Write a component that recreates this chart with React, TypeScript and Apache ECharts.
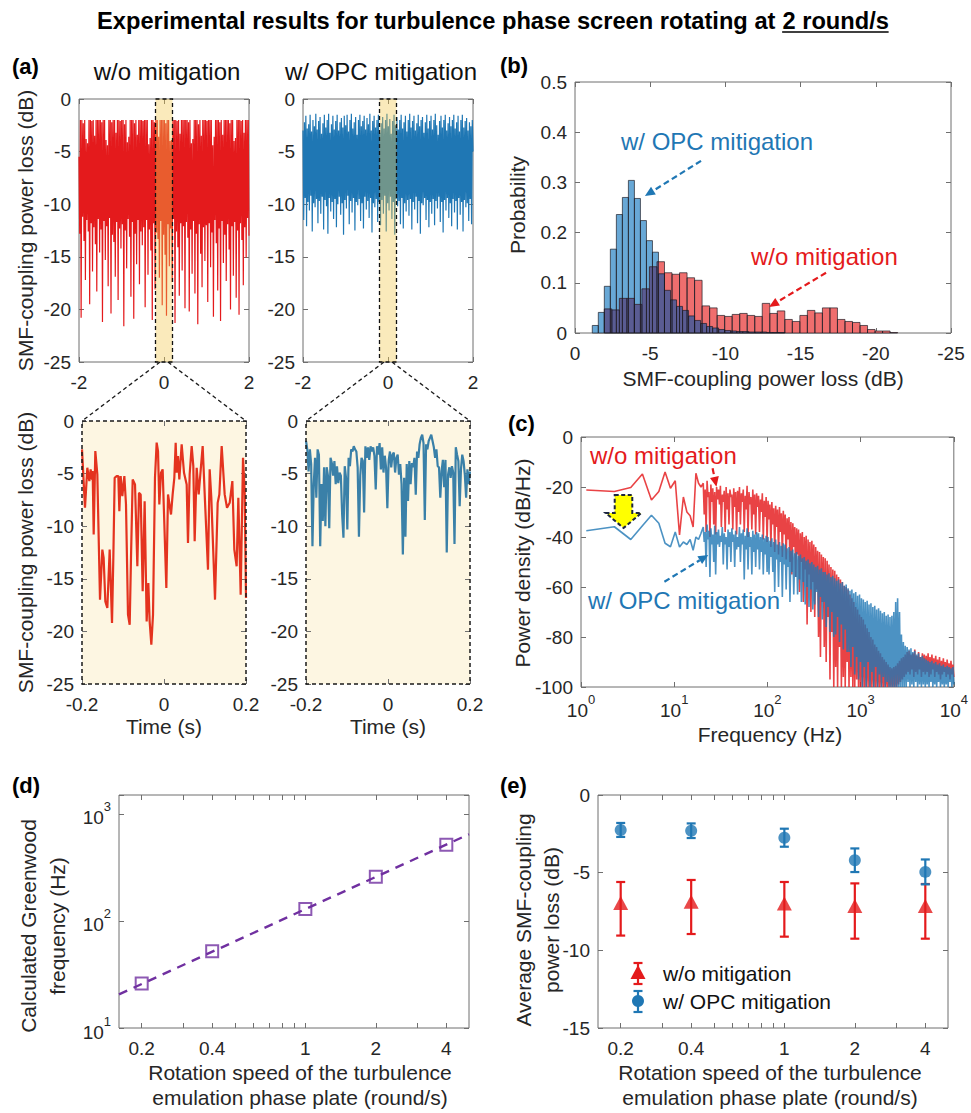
import React, { useEffect, useRef } from 'react';
import * as echarts from 'echarts';

// ================= DATA =================
const timeRangeTop = [-2, 2];
const zoomWindow = [-0.2, 0.2];
const lossRange = [-25, 0];

// (a) top-left: w/o mitigation, 4 s record (values in dB, uniform sampling)
const redTopLoss = [
  -5.5,-12.8,-2,-20.8,-2,-11.2,-2.3,-13.5,-2,-17.2,-3.8,-11.5,-4.2,-12.6,-2,-19.5,-2,-11.8,-2.1,-16.4,-2,-12.2,-3.5,-13.8,-2,-18.3,-2,-11.4,-2,-14.6,
  -2,-12.4,-2.2,-21.2,-2,-11.6,-2,-15.3,-3.9,-12.1,-4.4,-17.8,-2,-11.3,-2,-20.4,-2.2,-12.9,-2,-13.6,-2,-16.9,-3.2,-11.7,-2,-19.1,-2,-12.3,-2.1,-14.2,
  -2,-11.9,-2,-21.6,-2.4,-12.5,-2,-16.1,-4.1,-11.4,-3.6,-13.1,-2,-18.8,-2,-11.7,-2,-20.9,-2.3,-12.8,-2,-15.7,-3.4,-11.5,-2,-17.6,-2,-12.6,-2,-13.9,
  -2.1,-12.2,-2,-19.8,-2,-11.5,-2,-16.7,-4.3,-12.4,-3.7,-14.4,-2,-21.0,-2,-11.8,-2.2,-18.1,-2,-12.7,-2,-13.3,-3.6,-17.0,-2,-11.6,-2,-19.6,-2,-12.9,
  -2,-14.8,-2.3,-20.6,-2,-11.9,-2,-15.9,-4.0,-12.3,-3.9,-17.4,-2,-11.4,-2,-21.3,-2,-12.6,-2.1,-14.1,-2,-18.7,-3.3,-11.8,-2,-16.3,-2,-12.1,-2,-19.9,
  -2,-11.7,-2,-13.2,-2.2,-20.2,-2,-12.4,-4.2,-16.6,-3.8,-11.6,-2,-18.5,-2,-12.8,-2,-21.4,-2.4,-11.9,-2,-14.7,-3.5,-17.9,-2,-12.2,-2,-15.4,-2,-12.0,
  -2.1,-19.3,-2,-11.8,-2,-16.0,-2,-12.7,-4.4,-20.7,-3.6,-11.5,-2,-13.7,-2,-18.2,-2,-12.3,-2.2,-21.1,-2,-11.6,-3.4,-15.6,-2,-12.9,-2,-17.3,-2,-11.9,
  -2,-14.3,-2.3,-20.0,-2,-12.1,-2,-16.8,-4.0,-11.7,-3.7,-18.9,-2,-12.5,-2,-20.5,-2,-11.8,-2.1,-13.4,-2,-17.7,-3.2,-12.2,-2,-15.1,-2,-11.3,-2,-13.0,
];

// (a) top-right: w/ OPC mitigation, 4 s record
const blueTopLoss = [
  -3.0,-11.5,-2.2,-9.4,-1.6,-12.1,-2.8,-9.8,-2.4,-10.6,-1.5,-9.2,-3.1,-12.6,-2.0,-9.9,-2.6,-10.3,-1.4,-9.5,-2.9,-11.8,-2.1,-9.7,-1.7,-10.9,-3.3,-9.3,-2.3,-12.4,
  -1.5,-9.6,-2.7,-10.2,-2.0,-12.8,-1.4,-9.4,-3.2,-10.7,-2.4,-9.8,-1.6,-11.4,-2.9,-9.5,-2.1,-12.2,-1.5,-10.0,-3.0,-9.3,-2.2,-11.0,-1.8,-9.9,-2.7,-12.9,-1.6,-9.6,
  -2.5,-10.4,-1.5,-9.2,-3.1,-11.9,-2.0,-9.7,-1.4,-10.8,-2.8,-9.4,-2.2,-12.5,-1.7,-9.8,-3.4,-10.1,-2.0,-9.5,-1.5,-11.6,-2.6,-9.9,-2.1,-12.3,-1.6,-9.3,-2.9,-10.5,
  -1.8,-9.7,-2.4,-11.3,-1.4,-9.4,-3.0,-12.7,-2.1,-9.9,-1.6,-10.3,-2.7,-9.5,-2.0,-11.7,-1.5,-9.8,-3.2,-12.0,-2.3,-9.6,-1.7,-10.9,-2.8,-9.2,-2.0,-12.6,-1.4,-9.9,
  -2.6,-10.6,-1.9,-9.3,-3.3,-11.4,-2.1,-9.8,-1.5,-12.9,-2.5,-9.5,-1.7,-10.2,-2.9,-9.7,-2.0,-11.9,-1.5,-9.4,-2.8,-12.3,-2.2,-9.9,-1.6,-10.7,-3.1,-9.6,-2.0,-11.1,
  -1.4,-9.5,-2.7,-12.4,-2.1,-9.8,-1.6,-10.5,-3.0,-9.3,-2.3,-11.8,-1.5,-9.7,-2.6,-12.8,-2.0,-9.9,-1.7,-10.1,-3.2,-9.4,-2.2,-11.5,-1.5,-9.6,-2.8,-12.2,-2.1,-9.8,
  -1.6,-10.9,-2.9,-9.5,-2.0,-12.0,-1.4,-9.7,-2.5,-10.4,-3.4,-9.3,-2.1,-11.7,-1.6,-9.8,-2.7,-12.7,-2.0,-9.6,-1.5,-10.6,-3.0,-9.4,-2.3,-11.3,-1.7,-9.9,-2.6,-12.1,
  -2.0,-9.5,-1.5,-10.8,-2.8,-9.7,-2.2,-12.4,-1.6,-9.4,-3.1,-11.0,-2.0,-9.8,-1.5,-12.6,-2.7,-9.6,-2.1,-10.3,-1.8,-9.9,-3.0,-11.6,-2.2,-9.5,-2.6,-11.9,-2.0,-5.0,
];

// (a) bottom-left: zoomed window, w/o mitigation (time s, loss dB)
const zoomRedT = [
  -0.2,-0.1927,-0.187,-0.1821,-0.1789,-0.1756,-0.174,-0.1715,-0.1675,-0.1626,
  -0.1561,-0.1504,-0.1472,-0.1431,-0.1382,-0.1325,-0.1268,-0.1236,-0.1203,-0.1154,
  -0.1114,-0.1089,-0.1057,-0.1016,-0.0967,-0.0927,-0.0878,-0.0837,-0.0805,-0.0764,
  -0.0707,-0.065,-0.061,-0.0569,-0.052,-0.0472,-0.0423,-0.0382,-0.035,-0.0309,
  -0.0268,-0.022,-0.0179,-0.0146,-0.0114,-0.0073,-0.0033,0.0057,0.0098,0.0171,
  0.0211,0.0252,0.0285,0.0309,0.0341,0.0374,0.0431,0.0488,0.0553,0.0585,
  0.0626,0.0675,0.0715,0.0748,0.0797,0.0846,0.0943,0.1,0.1073,0.1114,
  0.1154,0.1244,0.1309,0.135,0.1407,0.148,0.1537,0.1602,0.1667,0.1715,
  0.1772,0.1813,0.187,0.1927,0.1967,0.2,
];
const zoomRedV = [
  -2.7,-8.25,-4.44,-5.71,-4.6,-5.56,-4.76,-10.79,-2.86,-5.08,
  -16.98,-12.22,-13.02,-17.14,-17.78,-12.22,-19.21,-13.02,-5.4,-5.24,
  -5.24,-8.57,-5.24,-7.14,-5.24,-7.94,-18.41,-19.37,-13.02,-5.56,
  -6.03,-13.81,-6.83,-6.98,-16.19,-7.62,-19.05,-15.4,-19.05,-21.27,
  -18.41,-5.4,-2.06,-2.86,-7.94,-4.92,-4.6,-15.87,-6.98,-8.89,
  -6.98,-5.4,-2.06,-4.92,-3.33,-5.56,-2.22,-4.92,-6.03,-11.59,
  -5.08,-2.38,-4.29,-11.43,-4.44,-6.98,-2.38,-7.62,-14.13,-4.6,
  -7.3,-16.98,-7.78,-6.98,-2.38,-6.98,-8.25,-7.78,-5.71,-12.22,
  -13.81,-7.3,-16.51,-3.49,-6.67,-16.83,
];
// (a) bottom-right: zoomed window, w/ OPC mitigation (uniform sampling over the window)
const zoomBlueV = [
  -1.9,-2.7,-4.8,-2.7,-4.1,-11.9,-6.0,-3.5,-7.3,-2.7,
  -3.2,-11.9,-6.0,-9.5,-4.4,-10.0,-4.4,-5.2,-10.2,-3.5,
  -4.0,-5.2,-3.8,-6.0,-4.3,-5.9,-4.9,-5.2,-8.9,-11.1,
  -4.3,-5.4,-10.3,-3.5,-4.3,-2.7,-2.9,-2.4,-2.7,-2.9,
  -4.4,-11.0,-5.2,-3.5,-3.8,-8.7,-2.4,-3.5,-2.5,-3.7,
  -2.4,-2.9,-2.5,-3.3,-6.5,-2.4,-3.2,-2.1,-4.6,-2.5,
  -4.9,-3.3,-4.4,-8.3,-3.8,-2.9,-4.4,-3.2,-3.0,-4.9,
  -3.5,-3.2,-5.1,-4.1,-6.0,-12.7,-5.4,-11.0,-4.1,-7.6,
  -3.8,-6.0,-4.0,-4.4,-3.5,-7.0,-2.9,-3.5,-2.2,-1.6,
  -1.3,-2.1,-9.4,-2.2,-2.7,-1.9,-1.6,-1.3,-1.9,-2.5,
  -3.5,-2.7,-4.3,-4.4,-7.3,-4.8,-3.7,-6.3,-3.7,-12.5,
  -5.1,-4.4,-5.4,-4.3,-4.9,-11.7,-2.5,-3.2,-3.8,-8.1,
  -4.6,-3.2,-3.8,-5.1,-7.3,-4.6,-6.0,-4.8,
];

// (b) histograms (probability density per bin; bins measured in dB of loss magnitude)
const histBlueStart = 1.15;
const histBlueWidth = 0.4;
const histBlue = [0.015,0.041,0.093,0.167,0.236,0.270,0.304,0.268,0.224,0.184,0.161,0.118,0.085,0.066,0.053,0.045,0.034,0.025,0.019,0.013,0.010,0.007,0.005,0.004,0.003,0.003,0.002,0.002,0.002,0.001,0.001,0.001];
const histRedStart = 1.95;
const histRedWidth = 0.5;
const histRed = [0.048,0.046,0.069,0.069,0.057,0.088,0.132,0.142,0.12,0.117,0.12,0.11,0.105,0.054,0.05,0.035,0.033,0.037,0.039,0.035,0.033,0.059,0.039,0.044,0.027,0.023,0.035,0.045,0.04,0.05,0.05,0.027,0.023,0.021,0.015,0.007,0.004,0.004,0.001];

// (c) power spectral density
const psdLowStep = 1.14; // Hz, frequency resolution of the low-frequency points
const psdRedLow = [-21.2,-21.8,-20.2,-14.8,-25.2,-21.8,-14.0,-20.5,-17.5,-39.2,-24.0,-30.0,-31.5,-36.0,-14.5,-18.5,-20.0];
const psdBlueLow = [-37.5,-35.9,-41.0,-35.5,-31.3,-34.5,-42.5,-43.9,-38.0,-44.0,-42.0,-43.0,-41.0,-45.3,-40.0,-41.0,-38.5];
const psdDenseRange = [20.5, 10000];
const psdRedDense = [
  -18.5,-31,-21,-38,-17.5,-24,-22,-40,-19,-26,-20.5,-35,-22,-39,-20,-25,
  -21,-27,-19.5,-36,-23,-26,-21.5,-38,-20,-29,-22.5,-35,-21,-24,-23,-37,-20.5,-28,-22,-39,-21.5,-30,
  -20,-35,-22.5,-26,-21,-38,-23.5,-29,-19.5,-40,-22,-27,-24,-37,-21,-31,-23,-39,-22.5,-28,
  -23.5,-38,-25,-30,-22.5,-41,-25.5,-32,-24,-42,
  -25.5,-33,-27,-44,-26,-35,-28.5,-46,-27.5,-36,-29,-47,-28,-38,-30.5,-48,-29.5,-39,
  -31,-49,-32.5,-41,-32,-50,-34,-55,-34.5,-44,-36,-56,
  -36.5,-47,-37,-62,-38.5,-50,-38,-66,-40,-53,-39.5,-75,-41,-55,-42,-70,-41.5,-58,
  -43,-72,-44,-61,-45.5,-80,-46,-88,-47,-66,-48,-84,
  -48.5,-90,-49.5,-72,-51,-97,-52,-78,-53,-100,
  -53.5,-92,-55,-100,-56,-84,-57,-100,-58,-96,-59.5,-100,-60,-90,
  -61,-100,-63,-96,-64.5,-100,-66,-100,-68,-97,-69,-100,-71,-100,-72,-100,
  -73,-100,-75,-100,-76.5,-100,-78,-100,-80,-100,-81,-100,-83,-100,-84,-100,-85.5,-100,
  -86.5,-100,-88,-100,-89,-100,-90,-100,-91,-100,-92,-100,
  -92.5,-100,-92,-100,-91.5,-100,-90.5,-99,-89.5,-98,-88.5,-97,-88,-96,-87,-95,
  -86,-94,-85.5,-95,-87,-93,-86.5,-96,-85,-94,-87.5,-95,-86,-93,-88,-96,-86.5,-94,-87,-95,
  -87.5,-94,-86.5,-96,-88,-95,-87,-93,-88.5,-96,-87.5,-94,-89,-95,-88,-97,-89.5,-95,-88.5,-94,-90,-96,-89,-95,-90.5,-97,-89.5,-95,-91,-96,
];
const psdBlueDense = [
  -36,-42,-38,-52,-35,-41,-37.5,-56,-36.5,-43,-39,-50,-35.5,-55,-38,-43,
  -37,-44,-39.5,-42,-36,-51,-38.5,-43,-40,-53,-37,-44,-38,-50,-36.5,-42,-39,-52,-37.5,-45,-40,-44,
  -36,-50,-38.5,-43,-37,-57,-39.5,-45,-36.5,-53,-38,-44,-40,-55,-37.5,-46,-39,-52,-38,-45,
  -38.5,-53,-40,-46,-39,-55,-40.5,-47,-39.5,-54,
  -40,-55,-41.5,-48,-40.5,-54,-42,-62,-41,-49,-43,-60,-42,-50,-43.5,-64,-42.5,-51,
  -43,-61,-44.5,-52,-44,-66,-45.5,-54,-45,-63,-46.5,-56,
  -46,-63,-47.5,-57,-47,-66,-48.5,-58,-48,-67,-49.5,-60,-49,-68,-50.5,-61,-50,-69,
  -51,-67,-52,-62,-51.5,-72,-53,-64,-52.5,-73,-54,-66,
  -54,-76,-55,-68,-54.5,-78,-56,-70,-55.5,-80,
  -56.5,-79,-57.5,-72,-57,-82,-58.5,-75,-58,-85,-59.5,-77,-59,-86,
  -60.5,-86,-61.5,-92,-61,-84,-62.5,-95,-62,-88,-63.5,-97,-63,-90,-64.5,-100,
  -65,-92,-66,-100,-65.5,-90,-67,-100,-66.5,-94,-68,-100,-67.5,-92,-69,-100,-68.5,-95,
  -69.5,-100,-70.5,-96,-70,-100,-71.5,-98,-71,-100,-72,-100,
  -71.5,-100,-70,-100,-66,-100,-64.5,-100,-70,-100,-79,-100,-82,-100,-83.5,-100,
  -84,-98,-85,-100,-84.5,-99,-86,-100,-85.5,-98,-87,-100,-86.5,-99,-88,-100,-87.5,-99,-88.5,-100,
  -89,-99,-89.5,-100,-90,-98,-89.5,-100,-90.5,-99,-90,-100,-91,-98,-90.5,-100,-91.5,-99,-91,-100,-92,-99,-91.5,-100,-92,-98,-92.5,-100,-92,-99,
];

// (d) and (e)
const speeds = [0.2, 0.4, 1, 2, 4];
const speedMinor = [0.3, 0.5, 0.6, 0.7, 0.8, 0.9, 3];
const speedAxisRange = [0.16, 5];
const greenwoodHz = [26, 52, 129, 258, 514];
const fitSpeed = [0.16, 5];
const fitHz = [20.6, 645];
const blueMeanLoss = [-2.25, -2.3, -2.75, -4.2, -4.95];
const blueErr = [0.45, 0.47, 0.58, 0.76, 0.8];
const redMeanLoss = [-6.95, -6.88, -6.98, -7.14, -7.14];
const redErrHigh = [-5.6, -5.47, -5.6, -5.69, -5.73];
const redErrLow = [-9.05, -8.95, -9.12, -9.25, -9.25];

// annotation arrows, in data coordinates [x1, y1, x2(tip), y2(tip)]
const histArrowBlue = [-8.38, 0.343, -4.65, 0.273];
const histArrowRed = [-16.69, 0.12, -12.9, 0.052];
const psdArrowRed = [25.8, -12.5, 28.4, -19.9];
const psdArrowBlue = [7.85, -57.9, 23.2, -47.2];
const yellowArrowF = [2.3, 3.55, 3.55, 4.44, 2.86, 1.84, 2.3];
const yellowArrowV = [-23.2, -23.2, -30.4, -30.4, -36.4, -30.4, -30.4];

// ================= STYLE =================
const FONT = "'Liberation Sans', Arial, Helvetica, sans-serif";
const TITLE_FAMILY = "'Liberation Sans Narrow', 'Arial Narrow', 'Liberation Sans', Arial, sans-serif";
const BOX = '#6f6f6f';
const TXT = '#262626';
const RED = '#e41a1c';
const BLUE = '#1f77b4';
const RED_ZOOM = '#e4331f';
const BLUE_ZOOM = '#3a80a8';
const CREAM = '#fdf6e2';
const PURPLE = '#7030a0';
const HB = '#68a8d6';
const HR = '#ef6e6e';
const HN = '#5a5c93';

const GRIDS = [
  { left: 79, top: 99, width: 170, height: 263 },
  { left: 303, top: 99, width: 170, height: 263 },
  { left: 82, top: 421, width: 164, height: 263 },
  { left: 306, top: 421, width: 164, height: 263 },
  { left: 575, top: 82, width: 376, height: 251 },
  { left: 581, top: 437, width: 377, height: 250 },
  { left: 119, top: 795, width: 350, height: 233 },
  { left: 598, top: 795, width: 350, height: 233 },
];

function clean(o: any) {
  const r: any = {};
  Object.keys(o).forEach((k) => { if (o[k] !== undefined) r[k] = o[k]; });
  return r;
}

const supRich = {
  b: { fontSize: 19, fontFamily: FONT, color: TXT, padding: [8, 0, 0, 0] },
  s: { fontSize: 13, fontFamily: FONT, color: TXT, verticalAlign: 'top' },
};
function powLabel(v: number) {
  const e = Math.round(Math.log10(v));
  if (Math.abs(Math.pow(10, e) - v) > 1e-6 * v) return '';
  return `{b|10}{s|${e}}`;
}

function mkAxis(gi: number, pos: string, c: any, withLabels: boolean) {
  const horizontal = pos === 'bottom' || pos === 'top';
  const label = clean({
    show: withLabels, color: TXT, fontSize: 19, fontFamily: FONT,
    margin: c.margin !== undefined ? c.margin : (horizontal ? 11 : 8),
    formatter: c.formatter, customValues: c.labels, rich: c.rich,
  });
  const tick = clean({ show: true, inside: true, length: 5, lineStyle: { color: BOX, width: 1 }, customValues: c.ticks });
  return clean({
    gridIndex: gi, position: pos, type: c.type || 'value',
    min: c.min, max: c.max, interval: c.interval, inverse: c.inverse,
    logBase: c.type === 'log' ? 10 : undefined,
    axisLine: { show: false, onZero: false },
    axisTick: tick,
    minorTick: { show: false },
    splitLine: { show: false },
    axisLabel: label,
  });
}

function measure(text: string, font: string) {
  const ctx = document.createElement('canvas').getContext('2d');
  if (!ctx) return text.length * 11;
  ctx.font = font;
  return ctx.measureText(text).width;
}

function txt(x: number, y: number, text: string, o: any = {}) {
  const align = o.align || 'center';
  return {
    type: 'text', x, y, rotation: o.rot || 0, silent: true, z: 100,
    style: {
      text, fill: o.color || TXT, fontSize: o.size || 21, fontFamily: o.family || FONT,
      fontWeight: o.weight || 'normal', align, verticalAlign: 'middle',
      textAlign: align, textVerticalAlign: 'middle',
    },
  };
}

function buildOption() {
  const grid = GRIDS.map((g, i) => ({
    ...g, show: true, containLabel: false,
    borderWidth: i === 2 || i === 3 ? 0 : 1, borderColor: BOX,
    backgroundColor: i === 2 || i === 3 ? CREAM : 'transparent',
  }));
  const xAxis: any[] = [];
  const yAxis: any[] = [];
  const addAxes = (gi: number, xc: any, yc: any) => {
    xAxis.push(mkAxis(gi, 'bottom', xc, true));
    xAxis.push(mkAxis(gi, 'top', xc, false));
    yAxis.push(mkAxis(gi, 'left', yc, true));
    yAxis.push(mkAxis(gi, 'right', yc, false));
  };
  const lossAxis = { min: lossRange[0], max: lossRange[1], interval: 5 };
  addAxes(0, { min: timeRangeTop[0], max: timeRangeTop[1], interval: 2 }, lossAxis);
  addAxes(1, { min: timeRangeTop[0], max: timeRangeTop[1], interval: 2 }, lossAxis);
  addAxes(2, { min: zoomWindow[0], max: zoomWindow[1], interval: 0.2 }, lossAxis);
  addAxes(3, { min: zoomWindow[0], max: zoomWindow[1], interval: 0.2 }, lossAxis);
  addAxes(4, { min: -25, max: 0, interval: 5, inverse: true }, { min: 0, max: 0.5, interval: 0.1 });
  addAxes(5, { type: 'log', min: 1, max: 10000, formatter: powLabel, rich: supRich, margin: 6 },
    { min: -100, max: 0, interval: 20 });
  const spLog = speedAxisRange.map((v) => Math.log10(v));
  const speedFmt = (v: number) => String(Math.round(Math.pow(10, v) * 10) / 10);
  const speedAxis = {
    min: spLog[0], max: spLog[1],
    labels: speeds.map((s) => Math.log10(s)),
    ticks: speeds.concat(speedMinor).map((s) => Math.log10(s)),
    formatter: speedFmt,
  };
  addAxes(6, speedAxis, { type: 'log', min: 10, max: 1500, formatter: powLabel, rich: supRich });
  addAxes(7, speedAxis, { min: -15, max: 0, interval: 5 });

  const series: any[] = [];
  const uniform = (n: number, i: number, a: number, b: number) => a + (b - a) * i / (n - 1);

  // ---- (a) top
  const windowRect = (ax: number, fill: string, stroke: string, lw: number, z: number) => ({
    type: 'custom', xAxisIndex: ax, yAxisIndex: ax, z, silent: true,
    data: [[zoomWindow[0], lossRange[1], zoomWindow[1], lossRange[0]]],
    renderItem: (p: any, api: any) => {
      const a = api.coord([api.value(0), api.value(1)]);
      const b = api.coord([api.value(2), api.value(3)]);
      return {
        type: 'rect',
        shape: { x: Math.min(a[0], b[0]), y: Math.min(a[1], b[1]), width: Math.abs(b[0] - a[0]), height: Math.abs(b[1] - a[1]) },
        style: { fill, stroke, lineWidth: lw, lineDash: [4, 3] },
      };
    },
  });
  series.push({
    type: 'line', xAxisIndex: 0, yAxisIndex: 0, symbol: 'none', silent: true, z: 2,
    lineStyle: { color: RED, width: 1.2 },
    data: redTopLoss.map((v, i) => [uniform(redTopLoss.length, i, timeRangeTop[0], timeRangeTop[1]), v]),
  });
  series.push(windowRect(0, 'rgba(243,200,75,0.38)', '#111', 1.3, 5));
  series.push({
    type: 'line', xAxisIndex: 2, yAxisIndex: 2, symbol: 'none', silent: true, z: 2,
    lineStyle: { color: BLUE, width: 1.2 },
    data: blueTopLoss.map((v, i) => [uniform(blueTopLoss.length, i, timeRangeTop[0], timeRangeTop[1]), v]),
  });
  series.push(windowRect(2, 'rgba(243,200,75,0.38)', '#111', 1.3, 5));

  // ---- (a) bottom
  series.push({
    type: 'line', xAxisIndex: 4, yAxisIndex: 4, symbol: 'none', silent: true, z: 2,
    lineStyle: { color: RED_ZOOM, width: 2.2 },
    data: zoomRedT.map((t, i) => [t, zoomRedV[i]]),
  });
  series.push(windowRect(4, 'none', '#1a1a1a', 1.5, 6));
  series.push({
    type: 'line', xAxisIndex: 6, yAxisIndex: 6, symbol: 'none', silent: true, z: 2,
    lineStyle: { color: BLUE_ZOOM, width: 2.2 },
    data: zoomBlueV.map((v, i) => [uniform(zoomBlueV.length, i, zoomWindow[0], zoomWindow[1]), v]),
  });
  series.push(windowRect(6, 'none', '#1a1a1a', 1.5, 6));

  // ---- (b) histograms
  const binItems = (start: number, width: number, h: number[]) =>
    h.map((v, i) => [-(start + i * width), v, -(start + (i + 1) * width)]);
  const overlap: number[][] = [];
  histBlue.forEach((hb, i) => {
    const b0 = histBlueStart + i * histBlueWidth;
    const b1 = b0 + histBlueWidth;
    histRed.forEach((hr, j) => {
      const r0 = histRedStart + j * histRedWidth;
      const r1 = r0 + histRedWidth;
      const lo = Math.max(b0, r0);
      const hi = Math.min(b1, r1);
      if (hi > lo) overlap.push([-lo, Math.min(hb, hr), -hi]);
    });
  });
  const histSeries = (items: number[][], fill: string, stroke: string, z: number) => ({
    type: 'custom', xAxisIndex: 8, yAxisIndex: 8, silent: true, z, data: items,
    renderItem: (p: any, api: any) => {
      const a = api.coord([api.value(0), api.value(1)]);
      const b = api.coord([api.value(2), 0]);
      return {
        type: 'rect',
        shape: { x: Math.min(a[0], b[0]), y: a[1], width: Math.abs(b[0] - a[0]), height: b[1] - a[1] },
        style: { fill, stroke, lineWidth: 0.9 },
      };
    },
  });
  series.push(histSeries(binItems(histBlueStart, histBlueWidth, histBlue), HB, 'none', 2));
  series.push(histSeries(binItems(histRedStart, histRedWidth, histRed), HR, 'none', 2));
  series.push(histSeries(overlap, HN, 'none', 2));
  series.push(histSeries(binItems(histBlueStart, histBlueWidth, histBlue), 'none', 'rgba(25,25,35,0.75)', 3));
  series.push(histSeries(binItems(histRedStart, histRedWidth, histRed), 'none', 'rgba(25,25,35,0.75)', 3));

  const arrowSeries = (ax: number, item: number[], color: string) => ({
    type: 'custom', xAxisIndex: ax, yAxisIndex: ax, silent: true, z: 8, data: [item],
    renderItem: (p: any, api: any) => {
      const p1 = api.coord([api.value(0), api.value(1)]);
      const p2 = api.coord([api.value(2), api.value(3)]);
      const dx = p2[0] - p1[0];
      const dy = p2[1] - p1[1];
      const L = Math.hypot(dx, dy) || 1;
      const ux = dx / L;
      const uy = dy / L;
      const hl = 10;
      const hw = 4.5;
      const bx = p2[0] - ux * hl;
      const by = p2[1] - uy * hl;
      return {
        type: 'group',
        children: [
          { type: 'line', shape: { x1: p1[0], y1: p1[1], x2: bx, y2: by }, style: { stroke: color, lineWidth: 2.2, lineDash: [6, 3.5] } },
          { type: 'polygon', shape: { points: [[p2[0], p2[1]], [bx - uy * hw, by + ux * hw], [bx + uy * hw, by - ux * hw]] }, style: { fill: color } },
        ],
      };
    },
  });
  series.push(arrowSeries(8, histArrowBlue, BLUE));
  series.push(arrowSeries(8, histArrowRed, RED));

  // ---- (c) PSD
  const psdData = (low: number[], dense: number[]) => {
    const out: number[][] = low.map((v, i) => [psdLowStep * (i + 1), v]);
    const n = dense.length;
    dense.forEach((v, i) => {
      out.push([psdDenseRange[0] * Math.pow(psdDenseRange[1] / psdDenseRange[0], i / (n - 1)), v]);
    });
    return out;
  };
  series.push({
    type: 'line', xAxisIndex: 10, yAxisIndex: 10, symbol: 'none', silent: true, z: 2,
    lineStyle: { color: RED, width: 1.6, opacity: 0.82 },
    data: psdData(psdRedLow, psdRedDense),
  });
  series.push({
    type: 'line', xAxisIndex: 10, yAxisIndex: 10, symbol: 'none', silent: true, z: 3,
    lineStyle: { color: BLUE, width: 1.6, opacity: 0.8 },
    data: psdData(psdBlueLow, psdBlueDense),
  });
  series.push(arrowSeries(10, psdArrowRed, RED));
  series.push(arrowSeries(10, psdArrowBlue, BLUE));
  series.push({
    type: 'custom', xAxisIndex: 10, yAxisIndex: 10, silent: true, z: 9,
    data: [[yellowArrowF[0], yellowArrowV[0]]],
    renderItem: (p: any, api: any) => ({
      type: 'polygon',
      shape: { points: yellowArrowF.map((f, i) => api.coord([f, yellowArrowV[i]])) },
      style: { fill: '#ffff00', stroke: '#1c2540', lineWidth: 2, lineDash: [4, 2.5] },
    }),
  });

  // ---- (d)
  series.push({
    type: 'line', xAxisIndex: 12, yAxisIndex: 12, symbol: 'none', silent: true, z: 2,
    lineStyle: { color: PURPLE, width: 2.4, type: [9, 7] },
    data: fitSpeed.map((s, i) => [Math.log10(s), fitHz[i]]),
  });
  series.push({
    type: 'scatter', xAxisIndex: 12, yAxisIndex: 12, symbol: 'rect', symbolSize: 12, silent: true, z: 3,
    itemStyle: { color: 'rgba(255,255,255,0)', borderColor: PURPLE, borderWidth: 2 },
    data: speeds.map((s, i) => [Math.log10(s), greenwoodHz[i]]),
  });

  // ---- (e)
  const errSeries = (color: string, lows: number[], highs: number[]) => ({
    type: 'custom', xAxisIndex: 14, yAxisIndex: 14, silent: true, z: 3,
    data: speeds.map((s, i) => [Math.log10(s), lows[i], highs[i]]),
    renderItem: (p: any, api: any) => {
      const a = api.coord([api.value(0), api.value(1)]);
      const b = api.coord([api.value(0), api.value(2)]);
      const c = 4.5;
      const st = { stroke: color, lineWidth: 2.2 };
      return {
        type: 'group',
        children: [
          { type: 'line', shape: { x1: a[0], y1: a[1], x2: b[0], y2: b[1] }, style: st },
          { type: 'line', shape: { x1: a[0] - c, y1: a[1], x2: a[0] + c, y2: a[1] }, style: st },
          { type: 'line', shape: { x1: b[0] - c, y1: b[1], x2: b[0] + c, y2: b[1] }, style: st },
        ],
      };
    },
  });
  series.push(errSeries(RED, redErrLow, redErrHigh));
  series.push(errSeries(BLUE, blueMeanLoss.map((m, i) => m - blueErr[i]), blueMeanLoss.map((m, i) => m + blueErr[i])));
  series.push({
    type: 'scatter', xAxisIndex: 14, yAxisIndex: 14, symbol: 'triangle', symbolSize: [15, 14], silent: true, z: 4,
    itemStyle: { color: RED }, data: speeds.map((s, i) => [Math.log10(s), redMeanLoss[i]]),
  });
  series.push({
    type: 'scatter', xAxisIndex: 14, yAxisIndex: 14, symbol: 'circle', symbolSize: 12, silent: true, z: 4,
    itemStyle: { color: BLUE }, data: speeds.map((s, i) => [Math.log10(s), blueMeanLoss[i]]),
  });

  // ---- graphic: title, labels, annotations
  const t1 = 'Experimental results for turbulence phase screen rotating at ';
  const t2 = '2 round/s';
  const tf = `bold 24px ${TITLE_FAMILY}`;
  const w1 = measure(t1, tf);
  const w2 = measure(t2, tf);
  const sx = 792 / (w1 + w2);
  const R = Math.PI / 2;
  const dashed = { stroke: '#1a1a1a', lineWidth: 1.3, lineDash: [4, 3] };
  const graphic: any[] = [
    {
      type: 'group', x: 97, y: 20, scaleX: sx, silent: true,
      children: [
        { type: 'text', x: 0, y: 0, style: { text: t1, font: tf, fill: '#000', align: 'left', verticalAlign: 'middle', textAlign: 'left', textVerticalAlign: 'middle' } },
        { type: 'text', x: w1, y: 0, style: { text: t2, font: tf, fill: '#000', align: 'left', verticalAlign: 'middle', textAlign: 'left', textVerticalAlign: 'middle' } },
        { type: 'line', shape: { x1: w1, y1: 12, x2: w1 + w2, y2: 12 }, style: { stroke: '#000', lineWidth: 1.6 } },
      ],
    },
    txt(12, 66, '(a)', { weight: 'bold', size: 22, align: 'left', color: '#000' }),
    txt(500, 65, '(b)', { weight: 'bold', size: 22, align: 'left', color: '#000' }),
    txt(508, 423, '(c)', { weight: 'bold', size: 22, align: 'left', color: '#000' }),
    txt(12, 785, '(d)', { weight: 'bold', size: 22, align: 'left', color: '#000' }),
    txt(500, 785, '(e)', { weight: 'bold', size: 22, align: 'left', color: '#000' }),

    txt(167, 71, 'w/o mitigation', { size: 24, color: '#111' }),
    txt(381, 71, 'w/ OPC mitigation', { size: 24, color: '#111' }),
    txt(25, 230.5, 'SMF-coupling power loss (dB)', { rot: R }),
    txt(25, 552.5, 'SMF-coupling power loss (dB)', { rot: R }),
    txt(164, 726, 'Time (s)'),
    txt(388, 726, 'Time (s)'),

    txt(517, 205, 'Probability', { rot: R }),
    txt(763, 378, 'SMF-coupling power loss (dB)'),
    txt(621, 141, 'w/ OPC mitigation', { size: 24, color: BLUE, align: 'left' }),
    txt(751, 256, 'w/o mitigation', { size: 24, color: RED, align: 'left' }),

    txt(522, 563, 'Power density (dB/Hz)', { rot: R }),
    txt(770, 734, 'Frequency (Hz)'),
    txt(590, 455, 'w/o mitigation', { size: 24, color: RED, align: 'left' }),
    txt(588, 600, 'w/ OPC mitigation', { size: 24, color: BLUE, align: 'left' }),

    txt(28, 926, 'Calculated Greenwood', { rot: R }),
    txt(57, 926, 'frequency (Hz)', { rot: R }),
    txt(300, 1072, 'Rotation speed of the turbulence'),
    txt(300, 1097, 'emulation phase plate (round/s)'),

    txt(523, 920, 'Average SMF-coupling', { rot: R }),
    txt(551, 920, 'power loss (dB)', { rot: R }),
    txt(770, 1072, 'Rotation speed of the turbulence'),
    txt(770, 1097, 'emulation phase plate (round/s)'),

    { type: 'line', silent: true, shape: { x1: 160, y1: 362, x2: 82, y2: 421 }, style: dashed },
    { type: 'line', silent: true, shape: { x1: 168, y1: 362, x2: 246, y2: 421 }, style: dashed },
    { type: 'line', silent: true, shape: { x1: 384, y1: 362, x2: 306, y2: 421 }, style: dashed },
    { type: 'line', silent: true, shape: { x1: 392, y1: 362, x2: 470, y2: 421 }, style: dashed },

    // legend of (e)
    { type: 'line', silent: true, z: 100, shape: { x1: 638, y1: 963, x2: 638, y2: 984 }, style: { stroke: RED, lineWidth: 2.2 } },
    { type: 'line', silent: true, z: 100, shape: { x1: 633.5, y1: 963, x2: 642.5, y2: 963 }, style: { stroke: RED, lineWidth: 2.2 } },
    { type: 'line', silent: true, z: 100, shape: { x1: 633.5, y1: 984, x2: 642.5, y2: 984 }, style: { stroke: RED, lineWidth: 2.2 } },
    { type: 'polygon', silent: true, z: 101, shape: { points: [[638, 965], [645.5, 979], [630.5, 979]] }, style: { fill: RED } },
    { type: 'line', silent: true, z: 100, shape: { x1: 638, y1: 991, x2: 638, y2: 1012 }, style: { stroke: BLUE, lineWidth: 2.2 } },
    { type: 'line', silent: true, z: 100, shape: { x1: 633.5, y1: 991, x2: 642.5, y2: 991 }, style: { stroke: BLUE, lineWidth: 2.2 } },
    { type: 'line', silent: true, z: 100, shape: { x1: 633.5, y1: 1012, x2: 642.5, y2: 1012 }, style: { stroke: BLUE, lineWidth: 2.2 } },
    { type: 'circle', silent: true, z: 101, shape: { cx: 638, cy: 1001, r: 6 }, style: { fill: BLUE } },
    txt(663, 973, 'w/o mitigation', { align: 'left', color: '#111' }),
    txt(663, 1001.5, 'w/ OPC mitigation', { align: 'left', color: '#111' }),
  ];

  return {
    animation: false,
    backgroundColor: '#ffffff',
    textStyle: { fontFamily: FONT },
    grid, xAxis, yAxis, series, graphic,
  };
}

export default function App() {
  const ref = useRef<HTMLDivElement>(null);
  useEffect(() => {
    const el = ref.current;
    if (!el) return;
    const chart = echarts.init(el, null, { renderer: 'svg', width: 971, height: 1113 });
    chart.setOption(buildOption() as any);
    return () => chart.dispose();
  }, []);
  return (
    <div
      ref={ref}
      style={{ position: 'absolute', left: 0, top: 0, width: 971, height: 1113, background: '#fff' }}
    />
  );
}
